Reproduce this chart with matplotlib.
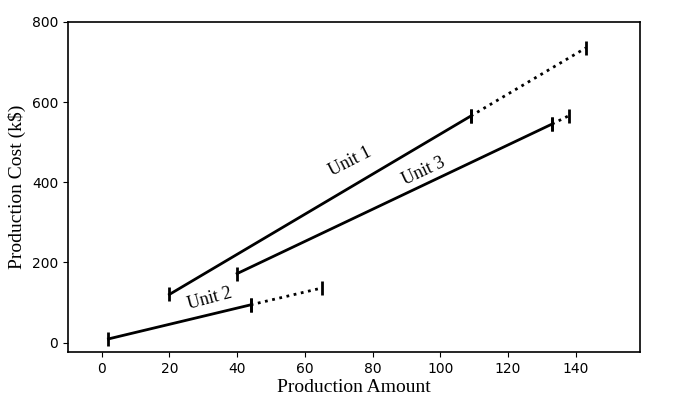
import matplotlib
matplotlib.use("Agg")
import matplotlib.pyplot as plt

# Data
unit1_solid_x = [20, 109]
unit1_solid_y = [120, 565]
unit1_dot_x = [109, 143]
unit1_dot_y = [565, 735]

unit2_solid_x = [2, 44]
unit2_solid_y = [9, 94]
unit2_dot_x = [44, 65]
unit2_dot_y = [94, 136]

unit3_solid_x = [40, 133]
unit3_solid_y = [172, 545]
unit3_dot_x = [133, 138]
unit3_dot_y = [545, 566]

labels = ["Unit 1", "Unit 2", "Unit 3"]
label_x = [73.3, 32, 95.1]
label_y = [452, 110, 428]
label_rot = [27, 15, 25]

serif = ["Liberation Serif", "DejaVu Serif"]

fig = plt.figure(figsize=(6.92, 3.97), dpi=100)
ax = fig.add_axes([0.098, 0.113, 0.827, 0.832])

lw = 2.0
ms = 10
mew = 2.0
for sx, sy, dx, dy in [(unit1_solid_x, unit1_solid_y, unit1_dot_x, unit1_dot_y),
                       (unit2_solid_x, unit2_solid_y, unit2_dot_x, unit2_dot_y),
                       (unit3_solid_x, unit3_solid_y, unit3_dot_x, unit3_dot_y)]:
    ax.plot(sx, sy, color="black", lw=lw, marker="|", ms=ms, mew=mew)
    ax.plot(dx, dy, color="black", lw=lw, ls=":", marker="|", ms=ms, mew=mew)

for t, x, y, r in zip(labels, label_x, label_y, label_rot):
    ax.text(x, y, t, rotation=r, ha="center", va="center", fontsize=13, family=serif)

ax.set_xlim(-10, 159)
ax.set_ylim(-24, 800)
ax.set_xticks([0, 20, 40, 60, 80, 100, 120, 140])
ax.set_yticks([0, 200, 400, 600, 800])
ax.tick_params(labelsize=10)
ax.set_xlabel("Production Amount", fontsize=14, family=serif, labelpad=2)
ax.set_ylabel("Production Cost (k$)", fontsize=14, family=serif, labelpad=4)
for s in ax.spines.values():
    s.set_linewidth(1.2)

fig.savefig("out.png", dpi=100)
